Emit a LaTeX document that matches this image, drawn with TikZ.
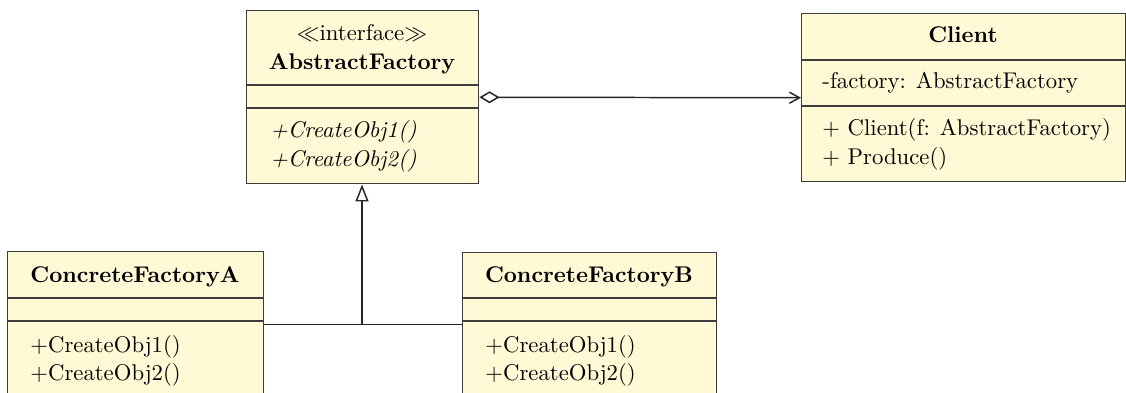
\documentclass[tikz,border=0pt]{standalone}
\usetikzlibrary{arrows.meta}
\definecolor{boxfill}{RGB}{255,249,214}
\definecolor{boxline}{RGB}{60,60,60}
\tikzset{
  x=0.44pt, y=-0.44pt,
  umlbox/.style={draw=boxline, fill=boxfill, line width=0.65pt, inner sep=0pt, anchor=north west},
  divider/.style={draw=boxline, line width=0.65pt},
  title/.style={font=\bfseries, anchor=base, inner sep=0pt},
  member/.style={anchor=base west, inner sep=0pt},
  conn/.style={draw=black!85, line width=0.65pt},
}
\begin{document}
\begin{tikzpicture}
\useasboundingbox (0,0) rectangle (1126,392);
\clip (0,0) rectangle (1126,392);
% boxes
\node[umlbox, minimum width=232*0.44pt, minimum height=173*0.44pt] (af) at (246,10) {};
\node[umlbox, minimum width=324*0.44pt, minimum height=168*0.44pt] (cl) at (801,13) {};
\node[umlbox, minimum width=256*0.44pt, minimum height=146*0.44pt] (fa) at (7,251) {};
\node[umlbox, minimum width=254*0.44pt, minimum height=144*0.44pt] (fb) at (462,252) {};
% dividers
\draw[divider] (246,85) -- (478,85);
\draw[divider] (246,108) -- (478,108);
\draw[divider] (801,60) -- (1125,60);
\draw[divider] (801,106) -- (1125,106);
\draw[divider] (7,298) -- (263,298);
\draw[divider] (7,321) -- (263,321);
\draw[divider] (462,298) -- (716,298);
\draw[divider] (462,321) -- (716,321);
% texts
\node[anchor=base, inner sep=0pt] (afst) at (362,40) {$\ll$interface$\gg$};
\node[title] (aft) at (362,69) {AbstractFactory};
\node[member] (afm1) at (270,137) {\textit{+CreateObj1()}};
\node[member] (afm2) at (270,166) {\textit{+CreateObj2()}};
\node[title] (clt) at (963,42) {Client};
\node[member] (cla) at (822,88) {-factory: AbstractFactory};
\node[member] (clm1) at (822,135) {$+$ Client(f: AbstractFactory)};
\node[member] (clm2) at (822,164) {$+$ Produce()};
\node[title] (fat) at (135,282) {ConcreteFactoryA};
\node[member] (fam1) at (30,352) {$+$CreateObj1()};
\node[member] (fam2) at (30,380) {$+$CreateObj2()};
\node[title] (fbt) at (589,282) {ConcreteFactoryB};
\node[member] (fbm1) at (485,352) {$+$CreateObj1()};
\node[member] (fbm2) at (485,380) {$+$CreateObj2()};
% connectors
\draw[conn, {Diamond[open, length=20*0.44pt, width=12*0.44pt]}-{Straight Barb[length=10*0.44pt, width=11*0.44pt]}] (af.east) -- (cl.west);
\coordinate (j) at (362,324);
\draw[conn] (fa.east) -- (fb.west);
\draw[conn, -{Triangle[open, length=17*0.44pt, width=13*0.44pt]}] (j) -- (j |- af.south);
\end{tikzpicture}
\end{document}
